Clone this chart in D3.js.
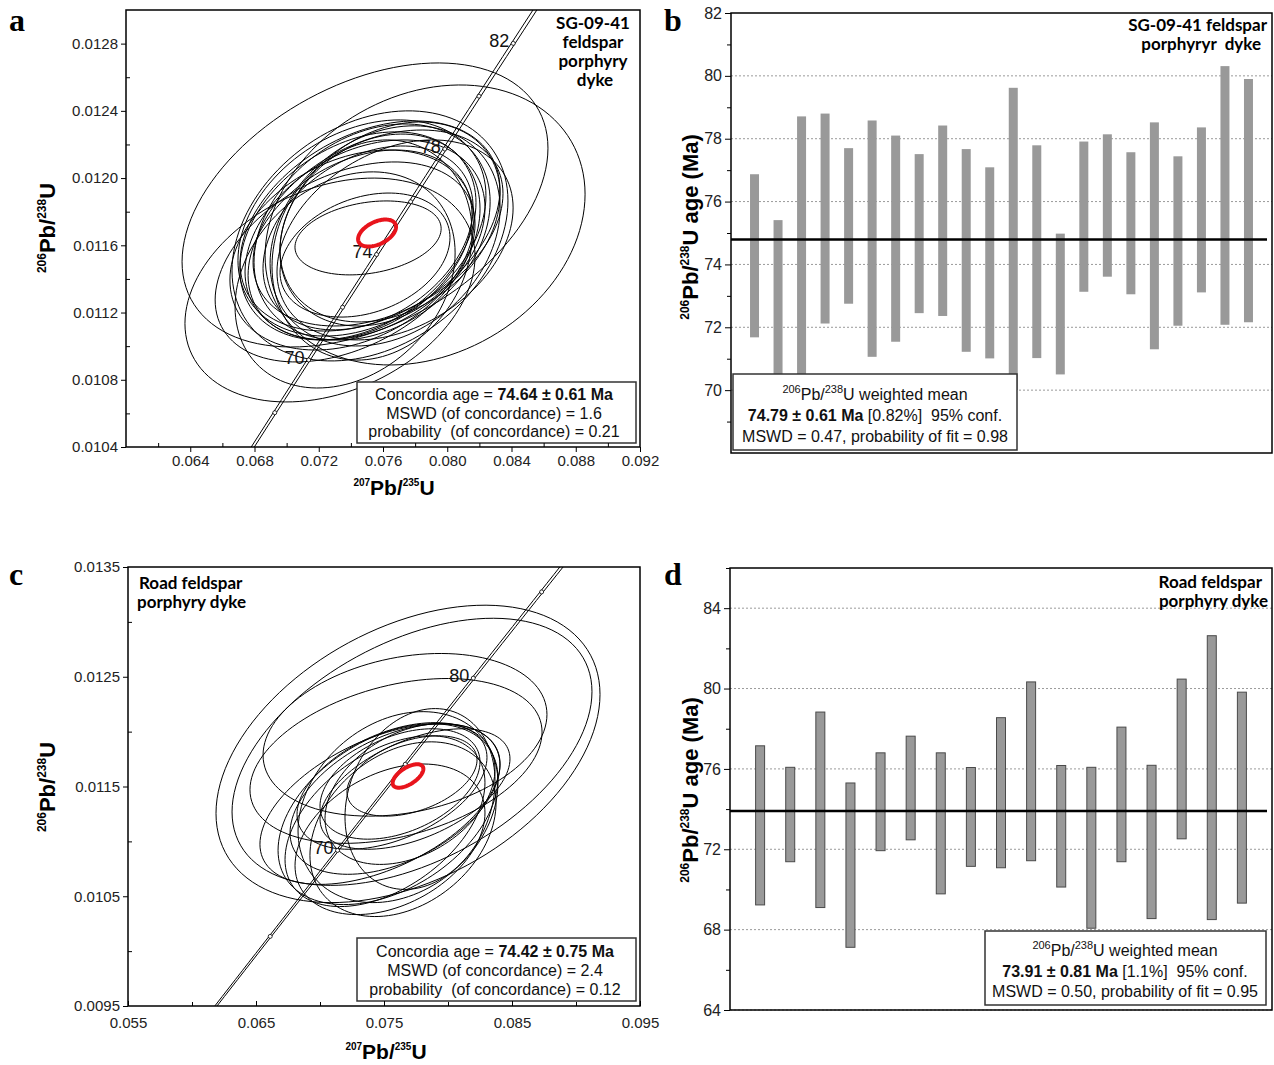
<!DOCTYPE html>
<html>
<head>
<meta charset="utf-8">
<script src="https://cdn.jsdelivr.net/npm/d3@7"></script>
<style>
  body { margin: 0; background: #fff; }
  svg text { white-space: pre; }
</style>
</head>
<body>
<svg id="fig" width="1274" height="1065" font-family="'Liberation Sans', Arial, sans-serif"></svg>
<script>
// decay constants (per year) and 2-sigma relative error of lambda235 for the concordia band
const LAMBDA238 = 1.55125e-10;
const LAMBDA235 = 9.8485e-10;
const L235_ERR = 0.00136;

// ---- panel a: SG-09-41 analyses (207Pb/235U, 206Pb/238U, error ellipses) ----
const aX   = [0.07488, 0.07532, 0.07569, 0.07457, 0.07613, 0.07519, 0.07407, 0.07644, 0.07507, 0.07519, 0.07581,
              0.07444, 0.07675, 0.07469, 0.07364, 0.07532, 0.07488, 0.07862, 0.07270, 0.07364, 0.07507, 0.07488];
const aSX  = [0.00747, 0.00735, 0.00778, 0.00697, 0.00716, 0.00809, 0.00760, 0.00685, 0.00654, 0.00859, 0.00623,
              0.00735, 0.00735, 0.00772, 0.00809, 0.00623, 0.01139, 0.00996, 0.00903, 0.00685, 0.00455, 0.00529];
const aY   = [0.011632, 0.011679, 0.011703, 0.011602, 0.011656, 0.011715, 0.011572, 0.011739, 0.011644, 0.011656, 0.011691,
              0.011656, 0.011632, 0.011703, 0.011501, 0.011572, 0.011840, 0.011721, 0.011334, 0.011394, 0.011644, 0.011542];
const aSY  = [0.000595, 0.000643, 0.000583, 0.000565, 0.000655, 0.000625, 0.000595, 0.000595, 0.000547, 0.000744, 0.000571,
              0.000619, 0.000595, 0.000643, 0.000595, 0.000655, 0.000845, 0.000833, 0.000666, 0.000643, 0.000220, 0.000369];
const aRho = [0.32, 0.28, 0.35, 0.32, 0.25, 0.35, 0.30, 0.28, 0.33, 0.28, 0.22,
              0.32, 0.32, 0.30, 0.38, 0.15, 0.40, 0.22, 0.30, 0.25, 0.25, 0.28];
const aConcordiaAge = [0.07563, 0.00118, 0.011673, 0.0000803, 0.45]; // x, sx, y, sy, rho
const aConcTicks = [68, 70, 72, 74, 76, 78, 80, 82, 84];
const aConcLabels = [70, 74, 78, 82];
const aXTicks = [0.064, 0.068, 0.072, 0.076, 0.080, 0.084, 0.088, 0.092];
const aXMinor = [0.062, 0.066, 0.070, 0.074, 0.078, 0.082, 0.086, 0.090];
const aYTicks = [0.0104, 0.0108, 0.0112, 0.0116, 0.0120, 0.0124, 0.0128];
const aYMinor = [0.0106, 0.0110, 0.0114, 0.0118, 0.0122, 0.0126];

// ---- panel b: SG-09-41 206Pb/238U ages (Ma), 2-sigma bars ----
const bAgeHigh = [76.87, 75.41, 78.71, 78.80, 77.70, 78.58, 78.10, 77.51, 78.42, 77.67, 77.09,
                  79.62, 77.79, 74.98, 77.91, 78.14, 77.57, 78.52, 77.44, 78.36, 80.31, 79.90];
const bAgeLow  = [71.68, 69.90, 70.10, 72.12, 72.75, 71.06, 71.54, 72.45, 72.36, 71.22, 71.01,
                  70.00, 71.02, 70.50, 73.13, 73.61, 73.05, 71.30, 72.05, 73.11, 72.08, 72.16];
const bMean = 74.79;
const bYTicks = [70, 72, 74, 76, 78, 80, 82];
const bYMinor = [69, 71, 73, 75, 77, 79, 81];

// ---- panel c: Road dyke analyses ----
const cX   = [0.076875, 0.077188, 0.076641, 0.075938, 0.077188, 0.075625, 0.076484, 0.075859, 0.075313,
              0.077031, 0.076094, 0.075078, 0.077422, 0.074688, 0.076250, 0.075469, 0.077813];
const cSX  = [0.01500, 0.01406, 0.01109, 0.01141, 0.00508, 0.00742, 0.00727, 0.00820, 0.00859,
              0.00664, 0.00781, 0.00781, 0.00742, 0.00938, 0.00625, 0.00742, 0.00586];
const cY   = [0.011797, 0.011816, 0.011971, 0.011733, 0.011596, 0.011505, 0.011111, 0.011386, 0.011248,
              0.011431, 0.011312, 0.011184, 0.011477, 0.011340, 0.011523, 0.011019, 0.011386];
const cSY  = [0.001355, 0.001217, 0.000741, 0.000751, 0.000366, 0.000577, 0.000796, 0.000686, 0.000824,
              0.000641, 0.000870, 0.000778, 0.000549, 0.000732, 0.000503, 0.000686, 0.000824];
const cRho = [0.40, 0.45, 0.25, 0.35, 0.40, 0.45, 0.30, 0.45, 0.40,
              0.35, 0.25, 0.45, 0.50, 0.50, 0.40, 0.35, 0.20];
const cConcordiaAge = [0.076875, 0.00120, 0.011596, 0.000107, 0.6];
const cConcTicks = [65, 70, 75, 80, 85];
const cConcLabels = [70, 80];
const cXTicks = [0.055, 0.065, 0.075, 0.085, 0.095];
const cXMinor = [0.060, 0.070, 0.080, 0.090];
const cYTicks = [0.0095, 0.0105, 0.0115, 0.0125, 0.0135];
const cYMinor = [0.0100, 0.0110, 0.0120, 0.0130];

// ---- panel d: Road dyke 206Pb/238U ages (Ma) ----
const dAgeHigh = [77.15, 76.08, 78.83, 75.30, 76.80, 77.63, 76.80, 76.07, 78.55,
                  80.33, 76.17, 76.08, 78.08, 76.18, 80.47, 82.63, 79.82];
const dAgeLow  = [69.23, 71.38, 69.10, 67.12, 71.93, 72.47, 69.78, 71.15, 71.08,
                  71.43, 70.12, 68.07, 71.38, 68.55, 72.52, 68.50, 69.32];
const dMean = 73.91;
const dYTicks = [64, 68, 72, 76, 80, 84];
const dYMinor = [66, 70, 74, 78, 82, 86];

const svg = d3.select("#fig");
const SANS = "'Liberation Sans', Arial, sans-serif";
const TITLE_FONT = "Lato, 'Open Sans', sans-serif";

// text with superscripts / bold runs: parts = [[text, kind]] kind: "n" | "b" | "sup"
function addRich(t, parts, size, supSize) {
  let raised = false;
  parts.forEach(([s, kind]) => {
    const sp = t.append("tspan").text(s);
    if (kind === "sup") {
      sp.attr("font-size", supSize);
      if (!raised) sp.attr("dy", -size * 0.42);
      raised = true;
    } else {
      if (raised) { sp.attr("dy", size * 0.42); raised = false; }
      if (kind === "b") sp.attr("font-weight", "bold");
    }
  });
  return t;
}

function ellipsePoints(cx, sx, cy, sy, rho) {
  const k = Math.sqrt(1 - rho * rho);
  return d3.range(0, 120).map(i => {
    const th = i / 120 * 2 * Math.PI;
    return [cx + sx * Math.cos(th), cy + sy * (rho * Math.cos(th) + k * Math.sin(th))];
  });
}

function concordia(tMa, l235) {
  return [Math.expm1(l235 * tMa * 1e6), Math.expm1(LAMBDA238 * tMa * 1e6)];
}

function legendBox(g, box, cx, lines, size) {
  g.append("rect").attr("x", box.x).attr("y", box.y).attr("width", box.w).attr("height", box.h)
    .attr("fill", "#fff").attr("stroke", "#333").attr("stroke-width", 1.5);
  lines.forEach((parts, i) => {
    const t = g.append("text").attr("x", cx).attr("y", box.base[i])
      .attr("text-anchor", "middle").attr("font-size", size).attr("fill", "#111");
    addRich(t, parts, size, 11);
  });
}

function titleLines(g, lines, xs, ys, anchor) {
  lines.forEach((s, i) => g.append("text").attr("x", xs[i]).attr("y", ys[i])
    .attr("text-anchor", anchor).attr("font-family", TITLE_FONT).attr("font-weight", 700)
    .attr("font-size", 17).attr("fill", "#000").text(s));
}

function panelLetter(s, x, y) {
  svg.append("text").attr("x", x).attr("y", y).attr("font-family", "'Liberation Serif', 'DejaVu Serif', serif")
    .attr("font-weight", "bold").attr("font-size", 32).text(s);
}

function styleAxis(sel) {
  sel.attr("font-family", SANS).attr("font-size", 15);
  sel.select(".domain").remove();
  sel.selectAll("text").attr("fill", "#222");
}

//----------//
// Concordia diagram (panels a, c)
//----------//
function drawConcordiaPlot(cfg) {
  const b = cfg.box;
  const x = d3.scaleLinear().domain(cfg.xDom).range([b.l, b.r]);
  const y = d3.scaleLinear().domain(cfg.yDom).range([b.b, b.t]);
  const g = svg.append("g");

  svg.append("clipPath").attr("id", "clip-" + cfg.id)
    .append("rect").attr("x", b.l).attr("y", b.t).attr("width", b.r - b.l).attr("height", b.b - b.t);
  const plot = g.append("g").attr("clip-path", `url(#clip-${cfg.id})`);

  const closed = d3.line().x(d => x(d[0])).y(d => y(d[1])).curve(d3.curveLinearClosed);
  const open = d3.line().x(d => x(d[0])).y(d => y(d[1]));

  // data-point error ellipses
  cfg.ex.forEach((_, i) => {
    plot.append("path")
      .attr("d", closed(ellipsePoints(cfg.ex[i], cfg.esx[i], cfg.ey[i], cfg.esy[i], cfg.erho[i])))
      .attr("fill", "none").attr("stroke", "#000").attr("stroke-width", 1);
  });

  // concordia band (lambda235 +- 2 sigma)
  const ages = d3.range(40, 120.01, 0.5);
  [1 - L235_ERR, 1 + L235_ERR].forEach(f => {
    plot.append("path").attr("d", open(ages.map(a => concordia(a, LAMBDA235 * f))))
      .attr("fill", "none").attr("stroke", "#000").attr("stroke-width", 1);
  });
  cfg.concTicks.forEach(a => {
    const p = concordia(a, LAMBDA235);
    plot.append("circle").attr("cx", x(p[0])).attr("cy", y(p[1])).attr("r", 2)
      .attr("fill", "#fff").attr("stroke", "#000").attr("stroke-width", 0.8);
  });
  cfg.concLabels.forEach(a => {
    const p = concordia(a, LAMBDA235);
    plot.append("text").attr("x", x(p[0]) - 4).attr("y", y(p[1]) + 4)
      .attr("text-anchor", "end").attr("font-size", 18).attr("fill", "#111").text(a);
  });

  // concordia age ellipse
  const ca = cfg.concAge;
  plot.append("path").attr("d", closed(ellipsePoints(ca[0], ca[1], ca[2], ca[3], ca[4])))
    .attr("fill", "none").attr("stroke", "#e8141c").attr("stroke-width", 4);

  legendBox(g, cfg.legend, cfg.legend.cx, cfg.legendLines, 16);
  titleLines(g, cfg.title.lines, cfg.title.xs, cfg.title.ys, cfg.title.anchor);

  // axes
  g.append("g").attr("transform", `translate(0,${b.b})`)
    .call(d3.axisBottom(x).tickValues(cfg.xTicks).tickFormat(d3.format(".3f"))
      .tickSize(cfg.xTickSize).tickSizeOuter(0).tickPadding(cfg.xPad))
    .call(styleAxis);
  g.append("g").attr("transform", `translate(0,${b.b})`)
    .call(d3.axisBottom(x).tickValues(cfg.xMinor).tickFormat("").tickSize(-4).tickSizeOuter(0))
    .call(styleAxis);
  g.append("g").attr("transform", `translate(${b.l},0)`)
    .call(d3.axisLeft(y).tickValues(cfg.yTicks).tickFormat(d3.format(".4f"))
      .tickSize(5).tickSizeOuter(0).tickPadding(3))
    .call(styleAxis);
  g.append("g").attr("transform", `translate(${b.l},0)`)
    .call(d3.axisLeft(y).tickValues(cfg.yMinor).tickFormat("").tickSize(-4).tickSizeOuter(0))
    .call(styleAxis);

  g.append("rect").attr("x", b.l).attr("y", b.t).attr("width", b.r - b.l).attr("height", b.b - b.t)
    .attr("fill", "none").attr("stroke", "#000").attr("stroke-width", 1.5);

  // axis titles
  const yl = g.append("text").attr("transform", `translate(${cfg.yLab[0]},${cfg.yLab[1]}) rotate(-90)`)
    .attr("text-anchor", "middle").attr("font-weight", "bold").attr("font-size", 22);
  addRich(yl, [["206", "sup"], ["Pb/", "n"], ["238", "sup"], ["U", "n"]], 22, 12);
  const xl = g.append("text").attr("x", cfg.xLab[0]).attr("y", cfg.xLab[1])
    .attr("text-anchor", "middle").attr("font-weight", "bold").attr("font-size", 21);
  addRich(xl, [["207", "sup"], ["Pb/", "n"], ["235", "sup"], ["U", "n"]], 21, 10);
}

//----------//
// Weighted-mean age plot (panels b, d)
//----------//
function drawAgePlot(cfg) {
  const b = cfg.box;
  const n = cfg.hi.length;
  const x = d3.scaleLinear().domain([0, n + 1]).range([b.l, b.r]);
  const y = d3.scaleLinear().domain(cfg.yDom).range([b.b, b.t]);
  const g = svg.append("g");

  g.selectAll("line.grid").data(cfg.yTicks.filter(v => v < cfg.yDom[1])).enter().append("line")
    .attr("class", "grid").attr("x1", b.l).attr("x2", b.r).attr("y1", d => y(d)).attr("y2", d => y(d))
    .attr("stroke", "#9a9a9a").attr("stroke-width", 1).attr("stroke-dasharray", "2,2");

  g.selectAll("rect.bar").data(d3.range(n)).enter().append("rect")
    .attr("class", "bar")
    .attr("x", i => x(i + 1) - cfg.barW / 2).attr("width", cfg.barW)
    .attr("y", i => y(cfg.hi[i])).attr("height", i => y(cfg.lo[i]) - y(cfg.hi[i]))
    .attr("fill", "#999").attr("stroke", cfg.barStroke).attr("stroke-width", cfg.barStroke === "none" ? 0 : 1);

  g.append("line").attr("x1", b.l).attr("x2", b.r - 5).attr("y1", y(cfg.mean)).attr("y2", y(cfg.mean))
    .attr("stroke", "#000").attr("stroke-width", 2.5);

  legendBox(g, cfg.legend, cfg.legend.cx, cfg.legendLines, 16);
  titleLines(g, cfg.title.lines, cfg.title.xs, cfg.title.ys, cfg.title.anchor);

  g.append("g").attr("transform", `translate(${b.l},0)`)
    .call(d3.axisLeft(y).tickValues(cfg.yTicks).tickFormat(d3.format("d")).tickSize(6).tickSizeOuter(0).tickPadding(3))
    .call(styleAxis)
    .call(s => s.selectAll("text").attr("font-size", 16));
  g.append("g").attr("transform", `translate(${b.l},0)`)
    .call(d3.axisLeft(y).tickValues(cfg.yMinor).tickFormat("").tickSize(4).tickSizeOuter(0))
    .call(styleAxis);

  g.append("rect").attr("x", b.l).attr("y", b.t).attr("width", b.r - b.l).attr("height", b.b - b.t)
    .attr("fill", "none").attr("stroke", "#000").attr("stroke-width", 1.5);

  const yl = g.append("text").attr("transform", `translate(${cfg.yLab[0]},${cfg.yLab[1]}) rotate(-90)`)
    .attr("text-anchor", "middle").attr("font-weight", "bold").attr("font-size", 22);
  addRich(yl, [["206", "sup"], ["Pb/", "n"], ["238", "sup"], ["U age (Ma)", "n"]], 22, 12);
}

// ---------------- panels ----------------
drawConcordiaPlot({
  id: "a", box: { l: 126, t: 10, r: 640, b: 447 },
  xDom: [0.060, 0.092], yDom: [0.0104, 0.0130],
  xTicks: aXTicks, xMinor: aXMinor, yTicks: aYTicks, yMinor: aYMinor, xTickSize: 5, xPad: 3,
  ex: aX, esx: aSX, ey: aY, esy: aSY, erho: aRho, concAge: aConcordiaAge,
  concTicks: aConcTicks, concLabels: aConcLabels,
  legend: { x: 357, y: 382, w: 279, h: 61, cx: 494, base: [400, 419, 437] },
  legendLines: [
    [["Concordia age = ", "n"], ["74.64 ± 0.61 Ma", "b"]],
    [["MSWD (of concordance) = 1.6", "n"]],
    [["probability  (of concordance) = 0.21", "n"]]
  ],
  title: { lines: ["SG-09-41", "feldspar", "porphyry", "dyke"], xs: [593, 593, 593, 595], ys: [29, 48, 67, 86], anchor: "middle" },
  yLab: [55, 228], xLab: [394, 495]
});

drawAgePlot({
  box: { l: 731, t: 13, r: 1272, b: 453 },
  yDom: [68, 82], yTicks: bYTicks, yMinor: bYMinor,
  hi: bAgeHigh, lo: bAgeLow, mean: bMean, barW: 9, barStroke: "none",
  legend: { x: 733, y: 374, w: 284, h: 76, cx: 875, base: [400, 421, 442] },
  legendLines: [
    [["206", "sup"], ["Pb/", "n"], ["238", "sup"], ["U weighted mean", "n"]],
    [["74.79 ± 0.61 Ma", "b"], [" [0.82%]  95% conf.", "n"]],
    [["MSWD = 0.47, probability of fit = 0.98", "n"]]
  ],
  title: { lines: ["SG-09-41 feldspar", "porphyryr  dyke"], xs: [1267, 1261], ys: [31, 50], anchor: "end" },
  yLab: [698, 227]
});

drawConcordiaPlot({
  id: "c", box: { l: 128, t: 567, r: 640, b: 1006 },
  xDom: [0.055, 0.095], yDom: [0.0095, 0.0135],
  xTicks: cXTicks, xMinor: cXMinor, yTicks: cYTicks, yMinor: cYMinor, xTickSize: -5, xPad: 11,
  ex: cX, esx: cSX, ey: cY, esy: cSY, erho: cRho, concAge: cConcordiaAge,
  concTicks: cConcTicks, concLabels: cConcLabels,
  legend: { x: 357, y: 938, w: 279, h: 63, cx: 495, base: [957, 976, 995] },
  legendLines: [
    [["Concordia age = ", "n"], ["74.42 ± 0.75 Ma", "b"]],
    [["MSWD (of concordance) = 2.4", "n"]],
    [["probability  (of concordance) = 0.12", "n"]]
  ],
  title: { lines: ["Road feldspar", "porphyry dyke"], xs: [139, 137], ys: [589, 608], anchor: "start" },
  yLab: [55, 787], xLab: [386, 1059]
});

drawAgePlot({
  box: { l: 730, t: 568, r: 1272, b: 1010 },
  yDom: [64, 86], yTicks: dYTicks, yMinor: dYMinor,
  hi: dAgeHigh, lo: dAgeLow, mean: dMean, barW: 9, barStroke: "#4a4a4a",
  legend: { x: 985, y: 931, w: 281, h: 74, cx: 1125, base: [956, 977, 997] },
  legendLines: [
    [["206", "sup"], ["Pb/", "n"], ["238", "sup"], ["U weighted mean", "n"]],
    [["73.91 ± 0.81 Ma", "b"], [" [1.1%]  95% conf.", "n"]],
    [["MSWD = 0.50, probability of fit = 0.95", "n"]]
  ],
  title: { lines: ["Road feldspar", "porphyry dyke"], xs: [1262, 1268], ys: [588, 607], anchor: "end" },
  yLab: [698, 790]
});

panelLetter("a", 9, 31);
panelLetter("b", 664, 31);
panelLetter("c", 9, 585);
panelLetter("d", 664, 585);
</script>
</body>
</html>
